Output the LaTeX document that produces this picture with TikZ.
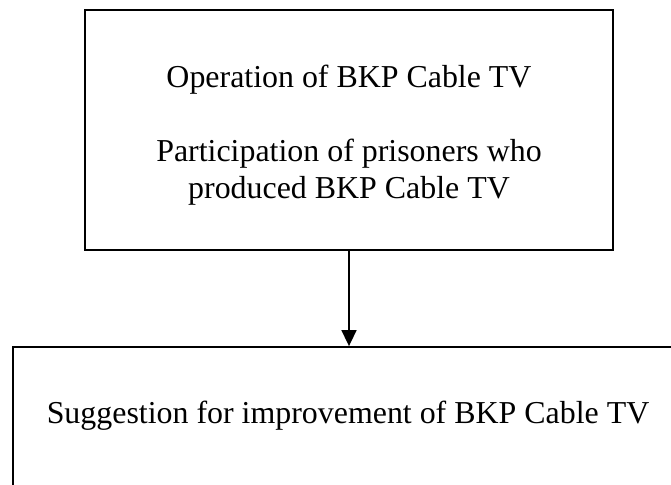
\documentclass[tikz,border=0pt]{standalone}
\usepackage{fontspec}
\setmainfont{Liberation Serif}
\usetikzlibrary{arrows.meta}
\begin{document}
\begin{tikzpicture}[x=1pt,y=-1pt,
  boxstyle/.style={draw=black, line width=1.8pt, rectangle, inner sep=0pt},
  txt/.style={font=\fontsize{31.9}{37}\selectfont, align=center, inner sep=0pt},
  conn/.style={line width=1.6pt, -{Triangle[length=16pt,width=15pt]}}]
\useasboundingbox (0,0) rectangle (671,484);
\clip (0,0) rectangle (671,484);
\node[boxstyle, minimum width=528pt, minimum height=240pt] (top) at (349,130) {};
\node[txt] (toptext) at (349,135) {Operation of BKP Cable TV\\[37pt]Participation of prisoners who\\produced BKP Cable TV};
\node[boxstyle, minimum width=677pt, minimum height=163pt] (bot) at (351.5,428.5) {};
\node[txt, anchor=base] (bottext) at (348,423) {Suggestion for improvement of BKP Cable TV};
\draw[conn] (top.south) -- (top.south |- bot.north);
\end{tikzpicture}
\end{document}
